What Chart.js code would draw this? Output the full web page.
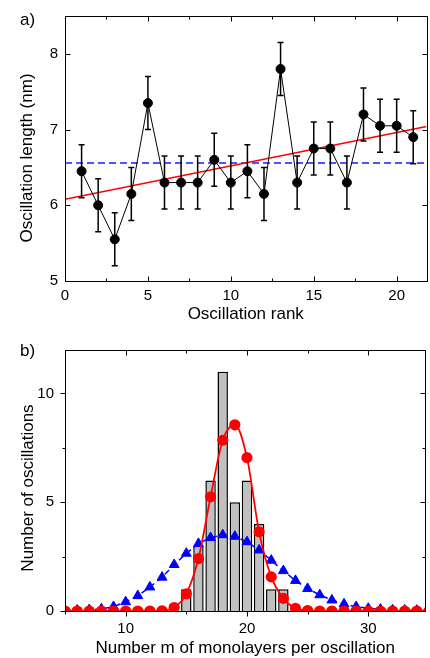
<!DOCTYPE html>
<html lang="en">
<head>
    <meta charset="UTF-8">
    <title>Oscillation length and monolayers per oscillation</title>
    <style>
        html, body {
            margin: 0;
            padding: 0;
            background: #fff;
            overflow: hidden;
        }

        body {
            position: relative;
            width: 430px;
            height: 658px;
            font-family: "Liberation Sans", Arial, Helvetica, sans-serif;
            color: #000;
        }

        .panel {
            position: absolute;
            left: 0;
            width: 432px;
        }

        #panelA { top: 0; height: 330px; }
        #panelB { top: 330px; height: 329px; }

        .tag {
            position: absolute;
            left: 20px;
            font-size: 17px;
            line-height: 17px;
        }

        .ytitle {
            position: absolute;
            font-size: 17px;
            line-height: 17px;
            white-space: nowrap;
            transform: translate(-50%, -50%) rotate(-90deg);
        }
    </style>
    <script src="https://cdn.jsdelivr.net/npm/chart.js"></script>
</head>
<body>
    <div id="panelA" class="panel"><canvas id="chartA"></canvas></div>
    <div id="panelB" class="panel"><canvas id="chartB"></canvas></div>

    <div class="tag" style="top: 11px;">a)</div>
    <div class="tag" style="top: 342px;">b)</div>
    <div class="ytitle" style="left: 26px; top: 158px;">Oscillation length (nm)</div>
    <div class="ytitle" style="left: 27px; top: 488px;">Number of oscillations</div>

    <script>
        // a) oscillation length vs rank
        const rank = [1, 2, 3, 4, 5, 6, 7, 8, 9, 10, 11, 12, 13, 14, 15, 16, 17, 18, 19, 20, 21];
        const oscLength = [6.45, 6.0, 5.55, 6.15, 7.35, 6.3, 6.3, 6.3, 6.6, 6.3, 6.45, 6.15, 7.8, 6.3, 6.75, 6.75, 6.3, 7.2, 7.05, 7.05, 6.9];
        const oscError = [0.35, 0.35, 0.35, 0.35, 0.35, 0.35, 0.35, 0.35, 0.35, 0.35, 0.35, 0.35, 0.35, 0.35, 0.35, 0.35, 0.35, 0.35, 0.35, 0.35, 0.35];
        const fitX = [0, 21.8];
        const fitY = [6.08, 7.04];
        const meanX = [0, 21.8];
        const meanY = [6.56, 6.56];
        const rankTicks = [0, 5, 10, 15, 20];
        const lengthTicks = [5, 6, 7, 8];

        // b) histogram of monolayers per oscillation + two gaussian fits
        const monoBins = [15, 16, 17, 18, 19, 20, 21, 22, 23];
        const monoCounts = [1, 3, 6, 11, 5, 6, 4, 1, 1];
        const fitM = [5, 6, 7, 8, 9, 10, 11, 12, 13, 14, 15, 16, 17, 18, 19, 20, 21, 22, 23, 24, 25, 26, 27, 28, 29, 30, 31, 32, 33, 34, 35];
        const narrowFit = [0, 0, 0, 0, 0, 0, 0, 0, 0.01, 0.16, 0.79, 2.41, 5.25, 7.85, 8.56, 7.05, 3.64, 1.57, 0.58, 0.12, 0.02, 0, 0, 0, 0, 0, 0, 0, 0, 0, 0];
        const wideFit = [0.03, 0.04, 0.06, 0.09, 0.2, 0.42, 0.7, 1.1, 1.55, 2.13, 2.65, 3.1, 3.37, 3.5, 3.43, 3.18, 2.8, 2.33, 1.85, 1.4, 1.03, 0.74, 0.5, 0.32, 0.2, 0.12, 0.08, 0.05, 0.04, 0.03, 0.02];
        const mTicks = [10, 20, 30];
        const countTicks = [0, 5, 10];

        const FONT = '"Liberation Sans", Arial, Helvetica, sans-serif';
        Chart.defaults.font.family = FONT;
        Chart.defaults.color = '#000';

        const pairs = (xs, ys) => xs.map((v, i) => ({x: v, y: ys[i]}));

        // box around the plot with inward / outward ticks on each side
        const framePlugin = {
            id: 'frame',
            afterDraw(chart, args, opts) {
                const {ctx, chartArea: a, scales: {x, y}} = chart;
                const L = Math.round(a.left) + 0.5, R = Math.round(a.right) + 0.5;
                const T = Math.round(a.top) + 0.5, B = Math.round(a.bottom) + 0.5;
                ctx.save();
                ctx.strokeStyle = '#000';
                ctx.lineWidth = 1;
                ctx.strokeRect(L, T, R - L, B - T);

                const marks = (scale, minor, major, fn) => {
                    const start = Math.ceil(scale.min / minor - 1e-9) * minor;
                    for (let v = start; v <= scale.max + 1e-9; v += minor) {
                        const r = v / major;
                        const len = Math.abs(r - Math.round(r)) < 1e-6 ? 5 : 3;
                        fn(Math.round(scale.getPixelForValue(v)) + 0.5, len);
                    }
                };
                ctx.beginPath();
                const o = opts.out || {};
                marks(x, opts.xMinor, opts.xMajor, (p, len) => {
                    ctx.moveTo(p, B); ctx.lineTo(p, o.bottom ? B + len : B - len);
                    ctx.moveTo(p, T); ctx.lineTo(p, T + len);
                });
                marks(y, opts.yMinor, opts.yMajor, (p, len) => {
                    ctx.moveTo(L, p); ctx.lineTo(o.left ? L - len : L + len, p);
                    ctx.moveTo(R, p); ctx.lineTo(R - len, p);
                });
                ctx.stroke();
                ctx.restore();
            }
        };

        const errorBarPlugin = {
            id: 'errorBars',
            afterDatasetsDraw(chart) {
                const {ctx, scales: {x, y}} = chart;
                chart.data.datasets.forEach(ds => {
                    if (!ds.errors) return;
                    ctx.save();
                    ctx.strokeStyle = '#000';
                    ctx.lineWidth = 1.5;
                    ctx.beginPath();
                    ds.data.forEach((pt, j) => {
                        const px = x.getPixelForValue(pt.x);
                        const top = y.getPixelForValue(pt.y + ds.errors[j]);
                        const bot = y.getPixelForValue(pt.y - ds.errors[j]);
                        ctx.moveTo(px, top); ctx.lineTo(px, bot);
                        ctx.moveTo(px - 3, top); ctx.lineTo(px + 3, top);
                        ctx.moveTo(px - 3, bot); ctx.lineTo(px + 3, bot);
                    });
                    ctx.stroke();
                    ctx.restore();
                });
            }
        };

        const tickFont = {family: FONT, size: 15};
        const titleFont = {family: FONT, size: 17};

        new Chart(document.getElementById('chartA'), {
            type: 'line',
            data: {
                datasets: [{
                    data: pairs(rank, oscLength),
                    errors: oscError,
                    borderColor: '#000',
                    borderWidth: 1,
                    pointRadius: 4.5,
                    pointBackgroundColor: '#000',
                    pointBorderColor: '#000',
                    order: 1
                }, {
                    data: pairs(fitX, fitY),
                    borderColor: '#ff0000',
                    borderWidth: 1.5,
                    pointRadius: 0,
                    order: 2
                }, {
                    data: pairs(meanX, meanY),
                    borderColor: '#1a1aff',
                    borderWidth: 1.5,
                    borderDash: [7, 4],
                    pointRadius: 0,
                    order: 3
                }]
            },
            options: {
                responsive: true,
                maintainAspectRatio: false,
                animation: false,
                layout: {padding: {top: 10, right: 1, left: 0, bottom: 0}},
                plugins: {
                    legend: {display: false},
                    tooltip: {enabled: false},
                    frame: {xMinor: 2.5, xMajor: 5, yMinor: 1, yMajor: 1}
                },
                scales: {
                    x: {
                        type: 'linear', min: 0, max: 21.8,
                        grid: {display: false, drawTicks: false},
                        border: {display: false},
                        afterBuildTicks: s => { s.ticks = rankTicks.map(v => ({value: v})); },
                        afterFit: s => { s.height = 49; },
                        ticks: {font: tickFont, color: '#000', padding: 6, autoSkip: false, maxRotation: 0},
                        title: {display: true, text: 'Oscillation rank', font: titleFont, color: '#000', padding: {top: 0, bottom: 5}}
                    },
                    y: {
                        type: 'linear', min: 5, max: 8.5,
                        grid: {display: false, drawTicks: false},
                        border: {display: false},
                        afterBuildTicks: s => { s.ticks = lengthTicks.map(v => ({value: v})); },
                        afterFit: s => { s.width = 65; },
                        ticks: {font: tickFont, color: '#000', padding: 7, autoSkip: false}
                    }
                }
            },
            plugins: [framePlugin, errorBarPlugin]
        });

        new Chart(document.getElementById('chartB'), {
            type: 'line',
            data: {
                datasets: [{
                    type: 'bar',
                    data: pairs(monoBins, monoCounts),
                    backgroundColor: '#c0c0c0',
                    borderColor: '#000',
                    borderWidth: 1.5,
                    barPercentage: 0.86,
                    categoryPercentage: 1,
                    order: 3
                }, {
                    data: pairs(fitM, wideFit),
                    borderColor: '#0000ff',
                    borderWidth: 1.5,
                    borderDash: [6, 4],
                    pointStyle: 'triangle',
                    pointRadius: 5.7,
                    pointBackgroundColor: '#0000ff',
                    pointBorderColor: '#0000ff',
                    pointBorderWidth: 1,
                    order: 2
                }, {
                    data: pairs(fitM, narrowFit),
                    borderColor: '#ff0000',
                    borderWidth: 1.8,
                    cubicInterpolationMode: 'monotone',
                    pointRadius: 4.7,
                    pointBackgroundColor: '#ff0000',
                    pointBorderColor: '#ff0000',
                    order: 1
                }]
            },
            options: {
                responsive: true,
                maintainAspectRatio: false,
                animation: false,
                layout: {padding: {top: 11, right: 1, left: 0, bottom: 0}},
                plugins: {
                    legend: {display: false},
                    tooltip: {enabled: false},
                    frame: {xMinor: 5, xMajor: 10, yMinor: 2.5, yMajor: 5, out: {bottom: true, left: true}}
                },
                scales: {
                    x: {
                        type: 'linear', min: 5, max: 34.7, offset: false,
                        grid: {display: false, drawTicks: false},
                        border: {display: false},
                        afterBuildTicks: s => { s.ticks = mTicks.map(v => ({value: v})); },
                        afterFit: s => { s.height = 48; },
                        ticks: {font: tickFont, color: '#000', padding: 9, autoSkip: false, maxRotation: 0},
                        title: {display: true, text: 'Number m of monolayers per oscillation', font: titleFont, color: '#000', padding: {top: 0, bottom: 0}}
                    },
                    y: {
                        type: 'linear', min: 0, max: 12,
                        grid: {display: false, drawTicks: false},
                        border: {display: false},
                        afterBuildTicks: s => { s.ticks = countTicks.map(v => ({value: v})); },
                        afterFit: s => { s.width = 65; },
                        ticks: {font: tickFont, color: '#000', padding: 11, autoSkip: false}
                    }
                }
            },
            plugins: [framePlugin]
        });
    </script>
</body>
</html>
